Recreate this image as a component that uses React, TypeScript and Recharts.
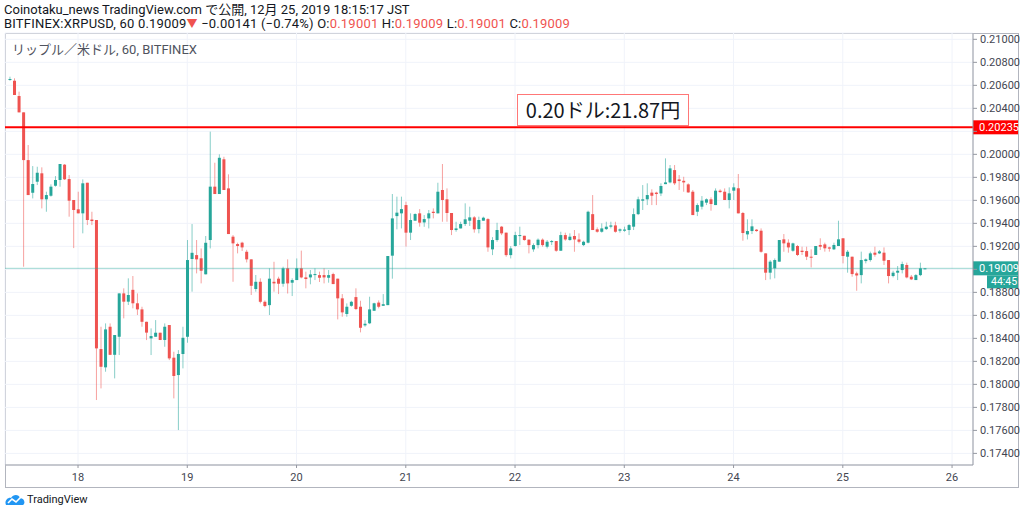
import { Bar, CartesianGrid, ComposedChart, ReferenceLine, XAxis, YAxis } from 'recharts'

document.body.style.margin = '0'

// hourly XRP/USD candles, 17th 09:00 JST -> 25th 18:00 JST (index = hours since first candle)
const opens = [
  0.20650, 0.20640, 0.20507, 0.20365, 0.19950, 0.19666, 0.19762, 0.19835, 0.19609, 0.19640,
  0.19727, 0.19777, 0.19910, 0.19785, 0.19603, 0.19522, 0.19487, 0.19753, 0.19433, 0.19429,
  0.18307, 0.18148, 0.18501, 0.18257, 0.18414, 0.18791, 0.18719, 0.18822, 0.18705, 0.18652,
  0.18544, 0.18400, 0.18414, 0.18449, 0.18386, 0.18516, 0.18232, 0.18081, 0.18264, 0.18414,
  0.19090, 0.19124, 0.19096, 0.18957, 0.19255, 0.19719, 0.19655, 0.19957, 0.19704, 0.19284,
  0.19220, 0.19232, 0.19153, 0.19087, 0.18829, 0.18892, 0.18718, 0.18689, 0.18892, 0.18919,
  0.18875, 0.19009, 0.18884, 0.18907, 0.19009, 0.18930, 0.18930, 0.18956, 0.18950, 0.18950,
  0.18927, 0.18959, 0.18919, 0.18748, 0.18612, 0.18683, 0.18759, 0.18675, 0.18513, 0.18531,
  0.18640, 0.18711, 0.18683, 0.18689, 0.19119, 0.19463, 0.19487, 0.19559, 0.19319, 0.19423,
  0.19487, 0.19408, 0.19443, 0.19501, 0.19487, 0.19690, 0.19609, 0.19490, 0.19342, 0.19356,
  0.19394, 0.19423, 0.19452, 0.19350, 0.19423, 0.19437, 0.19174, 0.19255, 0.19371, 0.19319,
  0.19124, 0.19203, 0.19290, 0.19292, 0.19258, 0.19174, 0.19211, 0.19258, 0.19197, 0.19237,
  0.19246, 0.19162, 0.19298, 0.19255, 0.19290, 0.19260, 0.19211, 0.19232, 0.19480, 0.19348,
  0.19327, 0.19350, 0.19371, 0.19382, 0.19336, 0.19336, 0.19342, 0.19371, 0.19480, 0.19597,
  0.19609, 0.19667, 0.19667, 0.19660, 0.19741, 0.19756, 0.19863, 0.19782, 0.19770, 0.19739,
  0.19675, 0.19501, 0.19545, 0.19580, 0.19609, 0.19559, 0.19684, 0.19675, 0.19603, 0.19684,
  0.19705, 0.19490, 0.19304, 0.19333, 0.19345, 0.19336, 0.19139, 0.18971, 0.19009, 0.19067,
  0.19261, 0.19232, 0.19162, 0.19203, 0.19162, 0.19159, 0.19110, 0.19125, 0.19212, 0.19217,
  0.19191, 0.19174, 0.19203, 0.19270, 0.19110, 0.19110, 0.18965, 0.18950, 0.19072, 0.19081,
  0.19145, 0.19139, 0.19145, 0.19081, 0.18942, 0.18971, 0.18994, 0.19038, 0.18936, 0.18907,
  0.18950, 0.19001,
]
const highs = [
  0.20675, 0.20661, 0.20545, 0.20365, 0.20081, 0.19898, 0.19892, 0.19887, 0.19675, 0.19739,
  0.19811, 0.19916, 0.19916, 0.19820, 0.19603, 0.19675, 0.19782, 0.19753, 0.19501, 0.19429,
  0.18501, 0.18530, 0.18530, 0.18429, 0.18791, 0.18835, 0.18922, 0.18942, 0.18791, 0.18675,
  0.18545, 0.18487, 0.18559, 0.18449, 0.18530, 0.18516, 0.18284, 0.18298, 0.18501, 0.19255,
  0.19394, 0.19255, 0.19182, 0.19290, 0.20197, 0.19927, 0.20000, 0.19979, 0.19826, 0.19298,
  0.19232, 0.19240, 0.19170, 0.19087, 0.18951, 0.18922, 0.18730, 0.19009, 0.19066, 0.18936,
  0.19023, 0.19087, 0.18922, 0.19095, 0.19163, 0.18980, 0.18994, 0.19009, 0.18980, 0.19009,
  0.18994, 0.18971, 0.18919, 0.18785, 0.18704, 0.18727, 0.18835, 0.18727, 0.18559, 0.18762,
  0.18710, 0.18730, 0.18785, 0.19116, 0.19655, 0.19632, 0.19632, 0.19588, 0.19487, 0.19487,
  0.19524, 0.19472, 0.19516, 0.19530, 0.19753, 0.19916, 0.19704, 0.19490, 0.19414, 0.19414,
  0.19574, 0.19545, 0.19463, 0.19458, 0.19458, 0.19445, 0.19280, 0.19405, 0.19377, 0.19319,
  0.19202, 0.19327, 0.19371, 0.19292, 0.19260, 0.19226, 0.19269, 0.19269, 0.19255, 0.19255,
  0.19246, 0.19327, 0.19319, 0.19313, 0.19342, 0.19313, 0.19249, 0.19510, 0.19646, 0.19365,
  0.19400, 0.19414, 0.19414, 0.19414, 0.19356, 0.19371, 0.19394, 0.19530, 0.19632, 0.19733,
  0.19748, 0.19696, 0.19675, 0.19748, 0.19965, 0.19907, 0.19907, 0.19820, 0.19805, 0.19748,
  0.19690, 0.19574, 0.19637, 0.19617, 0.19626, 0.19704, 0.19696, 0.19704, 0.19713, 0.19748,
  0.19829, 0.19499, 0.19435, 0.19435, 0.19350, 0.19356, 0.19139, 0.19081, 0.19095, 0.19255,
  0.19307, 0.19261, 0.19232, 0.19212, 0.19197, 0.19197, 0.19174, 0.19203, 0.19270, 0.19232,
  0.19197, 0.19232, 0.19423, 0.19270, 0.19168, 0.19110, 0.18980, 0.19154, 0.19095, 0.19154,
  0.19197, 0.19168, 0.19191, 0.19081, 0.18988, 0.19029, 0.19067, 0.19058, 0.18951, 0.18959,
  0.19058, 0.19009,
]
const lows = [
  0.20640, 0.20516, 0.20365, 0.19023, 0.19646, 0.19617, 0.19733, 0.19530, 0.19501, 0.19632,
  0.19719, 0.19719, 0.19777, 0.19458, 0.19185, 0.19487, 0.19313, 0.19385, 0.19385, 0.17864,
  0.17965, 0.18110, 0.18255, 0.18052, 0.18255, 0.18574, 0.18690, 0.18661, 0.18603, 0.18501,
  0.18385, 0.18255, 0.18414, 0.18385, 0.18327, 0.18211, 0.17878, 0.17603, 0.18139, 0.18362,
  0.18806, 0.18965, 0.18878, 0.18956, 0.19182, 0.19655, 0.19655, 0.19690, 0.19307, 0.18892,
  0.19139, 0.19160, 0.19060, 0.18777, 0.18806, 0.18704, 0.18670, 0.18603, 0.18806, 0.18785,
  0.18849, 0.18790, 0.18768, 0.18907, 0.18922, 0.18835, 0.18870, 0.18907, 0.18890, 0.18878,
  0.18884, 0.18872, 0.18565, 0.18588, 0.18588, 0.18675, 0.18646, 0.18452, 0.18501, 0.18524,
  0.18640, 0.18661, 0.18683, 0.18689, 0.18919, 0.19348, 0.19356, 0.19198, 0.19255, 0.19423,
  0.19371, 0.19370, 0.19356, 0.19443, 0.19487, 0.19414, 0.19414, 0.19298, 0.19327, 0.19356,
  0.19377, 0.19377, 0.19319, 0.19313, 0.19423, 0.19153, 0.19124, 0.19240, 0.19298, 0.19110,
  0.19095, 0.19197, 0.19211, 0.19249, 0.19139, 0.19153, 0.19182, 0.19197, 0.19182, 0.19211,
  0.19153, 0.19162, 0.19249, 0.19249, 0.19153, 0.19226, 0.19202, 0.19226, 0.19342, 0.19319,
  0.19319, 0.19342, 0.19356, 0.19319, 0.19319, 0.19327, 0.19298, 0.19342, 0.19472, 0.19516,
  0.19559, 0.19559, 0.19559, 0.19637, 0.19741, 0.19748, 0.19733, 0.19690, 0.19675, 0.19666,
  0.19472, 0.19463, 0.19521, 0.19559, 0.19510, 0.19559, 0.19666, 0.19603, 0.19530, 0.19603,
  0.19487, 0.19249, 0.19260, 0.19307, 0.19327, 0.19145, 0.18907, 0.18913, 0.18922, 0.19067,
  0.19153, 0.19145, 0.19153, 0.19116, 0.19125, 0.19081, 0.19017, 0.19125, 0.19168, 0.19154,
  0.19154, 0.19168, 0.19203, 0.19052, 0.18971, 0.18936, 0.18814, 0.18878, 0.19052, 0.19067,
  0.19110, 0.19133, 0.19038, 0.18878, 0.18930, 0.18907, 0.18965, 0.18922, 0.18907, 0.18907,
  0.18941, 0.19001,
]
const closes = [
  0.20655, 0.20516, 0.20365, 0.19950, 0.19646, 0.19742, 0.19840, 0.19609, 0.19646, 0.19719,
  0.19777, 0.19916, 0.19783, 0.19597, 0.19516, 0.19487, 0.19748, 0.19429, 0.19420, 0.18313,
  0.18153, 0.18478, 0.18257, 0.18429, 0.18791, 0.18719, 0.18777, 0.18705, 0.18652, 0.18544,
  0.18450, 0.18420, 0.18449, 0.18386, 0.18501, 0.18226, 0.18073, 0.18264, 0.18405, 0.19081,
  0.19144, 0.19087, 0.18988, 0.19231, 0.19719, 0.19655, 0.19970, 0.19690, 0.19307, 0.19226,
  0.19203, 0.19191, 0.19087, 0.18857, 0.18892, 0.18718, 0.18681, 0.18919, 0.18878, 0.18875,
  0.19009, 0.18878, 0.18907, 0.19009, 0.18930, 0.18916, 0.18956, 0.18959, 0.18927, 0.18930,
  0.18950, 0.18872, 0.18748, 0.18626, 0.18675, 0.18718, 0.18655, 0.18492, 0.18527, 0.18652,
  0.18705, 0.18675, 0.18697, 0.19116, 0.19443, 0.19493, 0.19524, 0.19319, 0.19429, 0.19481,
  0.19406, 0.19437, 0.19487, 0.19490, 0.19675, 0.19603, 0.19490, 0.19342, 0.19356, 0.19394,
  0.19435, 0.19452, 0.19348, 0.19429, 0.19449, 0.19191, 0.19255, 0.19342, 0.19313, 0.19124,
  0.19182, 0.19298, 0.19298, 0.19255, 0.19211, 0.19211, 0.19258, 0.19211, 0.19240, 0.19246,
  0.19162, 0.19298, 0.19260, 0.19284, 0.19260, 0.19240, 0.19240, 0.19501, 0.19342, 0.19327,
  0.19356, 0.19371, 0.19382, 0.19327, 0.19348, 0.19346, 0.19385, 0.19480, 0.19609, 0.19609,
  0.19646, 0.19640, 0.19655, 0.19725, 0.19756, 0.19878, 0.19748, 0.19768, 0.19756, 0.19669,
  0.19472, 0.19559, 0.19597, 0.19609, 0.19568, 0.19684, 0.19672, 0.19603, 0.19661, 0.19713,
  0.19487, 0.19316, 0.19333, 0.19374, 0.19333, 0.19153, 0.18971, 0.19067, 0.19081, 0.19255,
  0.19226, 0.19191, 0.19226, 0.19125, 0.19151, 0.19110, 0.19104, 0.19203, 0.19197, 0.19183,
  0.19180, 0.19212, 0.19261, 0.19116, 0.19153, 0.18959, 0.18947, 0.19081, 0.19087, 0.19139,
  0.19127, 0.19156, 0.19075, 0.18942, 0.18971, 0.18988, 0.19046, 0.18930, 0.18913, 0.18950,
  0.19009, 0.19009,
]

const dayTicks = [15, 39, 63, 87, 111, 135, 159, 183, 207]
const dayLabels = ['18', '19', '20', '21', '22', '23', '24', '25', '26']
const priceTicks = [0.174, 0.176, 0.178, 0.18, 0.182, 0.184, 0.186, 0.188, 0.19, 0.192, 0.194, 0.196, 0.198, 0.2, 0.202, 0.204, 0.206, 0.208, 0.21]
// tick labels hidden behind the price tags on the axis
const coveredTicks = [0.19, 0.202]
const markLine = 0.20235
const lastPrice = 0.19009

const UP = '#26a69a'
const DOWN = '#ef5350'
const FONT = 'Roboto, "Noto Sans CJK JP", sans-serif'

const data = opens.map((o, i) => ({ i, o, h: highs[i], l: lows[i], c: closes[i] }))

function Candle(props: any) {
  const { x, y, width, height, payload } = props
  const { o, h, l, c } = payload
  const top = height < 0 ? y + height : y
  const len = Math.abs(height)
  const k = h > l ? len / (h - l) : 0
  const color = c >= o ? UP : DOWN
  const cx = x + width / 2
  const bTop = top + (h - Math.max(o, c)) * k
  const bBot = top + (h - Math.min(o, c)) * k
  return <g>
    <line x1={cx} x2={cx} y1={top} y2={top + len} stroke={color} strokeOpacity={0.55} />
    <rect x={x} y={bTop} width={width} height={Math.max(1, bBot - bTop)} fill={color} />
  </g>
}

function PriceTag(props: any) {
  const { viewBox, text, fill, timer } = props
  const x = viewBox.x + viewBox.width
  const y = viewBox.y
  return <g>
    <rect x={x} y={y - 7} width={45} height={14} fill={fill} />
    <text x={x + 6} y={y + 4} fill="#fff" fontSize={11} fontFamily={FONT}>{text}</text>
    {timer && <>
      <rect x={x + 14} y={y + 7} width={31} height={13} fill={fill} />
      <text x={x + 18} y={y + 17} fill="#fff" fontSize={10.5} fontFamily={FONT}>{timer}</text>
    </>}
  </g>
}

export default function App() {
  return <div style={{ position: 'relative', width: 1024, height: 514, background: '#fff', fontFamily: FONT, color: '#131722' }}>
    <div style={{ position: 'absolute', left: 4, top: 3, fontSize: 13, lineHeight: '14px', whiteSpace: 'nowrap' }}>
      Coinotaku_news TradingView.com で公開, 12月 25, 2019 18:15:17 JST
    </div>
    <div style={{ position: 'absolute', left: 4, top: 17, fontSize: 13, lineHeight: '14px', whiteSpace: 'nowrap', letterSpacing: 0.2 }}>
      BITFINEX:XRPUSD, 60 0.19009<span style={{ color: DOWN, fontSize: 11 }}>▼</span> −0.00141 (−0.74%) O:<span style={{ color: DOWN }}>0.19001</span> H:<span style={{ color: DOWN }}>0.19009</span> L:<span style={{ color: DOWN }}>0.19001</span> C:<span style={{ color: DOWN }}>0.19009</span>
    </div>
    <div style={{ position: 'absolute', left: 5, top: 33, width: 1012, height: 453, border: '1px solid #b2b5be' }} />
    <ComposedChart width={1024} height={514} data={data} margin={{ top: 33, right: 6, left: 5, bottom: 27 }} style={{ position: 'absolute', left: 0, top: 0 }}>
      <CartesianGrid stroke="#f0f3fa" />
      <XAxis type="number" dataKey="i" domain={[-1.04, 211.6]} ticks={dayTicks} tickFormatter={(v: number) => dayLabels[dayTicks.indexOf(v)]}
        tick={{ fontSize: 11, fill: '#434651', fontFamily: FONT }} tickSize={3} tickMargin={5} stroke="#9598a1" height={22} allowDataOverflow />
      <YAxis orientation="right" domain={[0.17299, 0.21055]} ticks={priceTicks} tickFormatter={(v: number) => (coveredTicks.includes(v) ? '' : v.toFixed(5))}
        tick={{ fontSize: 11, fill: '#434651', fontFamily: FONT }} tickSize={4} tickMargin={3} stroke="#9598a1" width={45} allowDataOverflow />
      <ReferenceLine y={lastPrice} stroke={UP} strokeOpacity={0.45} label={<PriceTag text="0.19009" fill={UP} timer="44:45" />} />
      <ReferenceLine y={markLine} stroke="#ff0000" strokeWidth={2} label={<PriceTag text="0.20235" fill="#ff0000" />} />
      <Bar dataKey={(d: any) => [d.l, d.h]} barSize={3} shape={<Candle />} isAnimationActive={false} />
    </ComposedChart>
    <div style={{ position: 'absolute', left: 12, top: 39, fontSize: 13, color: '#50535e', whiteSpace: 'nowrap' }}>リップル／米ドル, 60, BITFINEX</div>
    <div style={{ position: 'absolute', left: 517, top: 94, width: 170, height: 30, border: '1px solid #f77', background: '#fff', fontSize: 20, lineHeight: '30px', textAlign: 'center', fontFamily: '"Noto Sans CJK JP", sans-serif', whiteSpace: 'nowrap' }}>
      0.20ドル:21.87円
    </div>
    <svg style={{ position: 'absolute', left: 5, top: 493 }} width={20} height={14}>
      <path d="M1 12 C-1 8 3 4 6 5 C8 1 14 1 15 5 C19 5 21 10 18 12 Z" fill="#2196f3" />
      <path d="M3 10 L7 6 L11 9 L16 4" stroke="#fff" strokeWidth={1.6} fill="none" />
    </svg>
    <div style={{ position: 'absolute', left: 27, top: 493, fontSize: 11, lineHeight: '14px' }}>TradingView</div>
  </div>
}
